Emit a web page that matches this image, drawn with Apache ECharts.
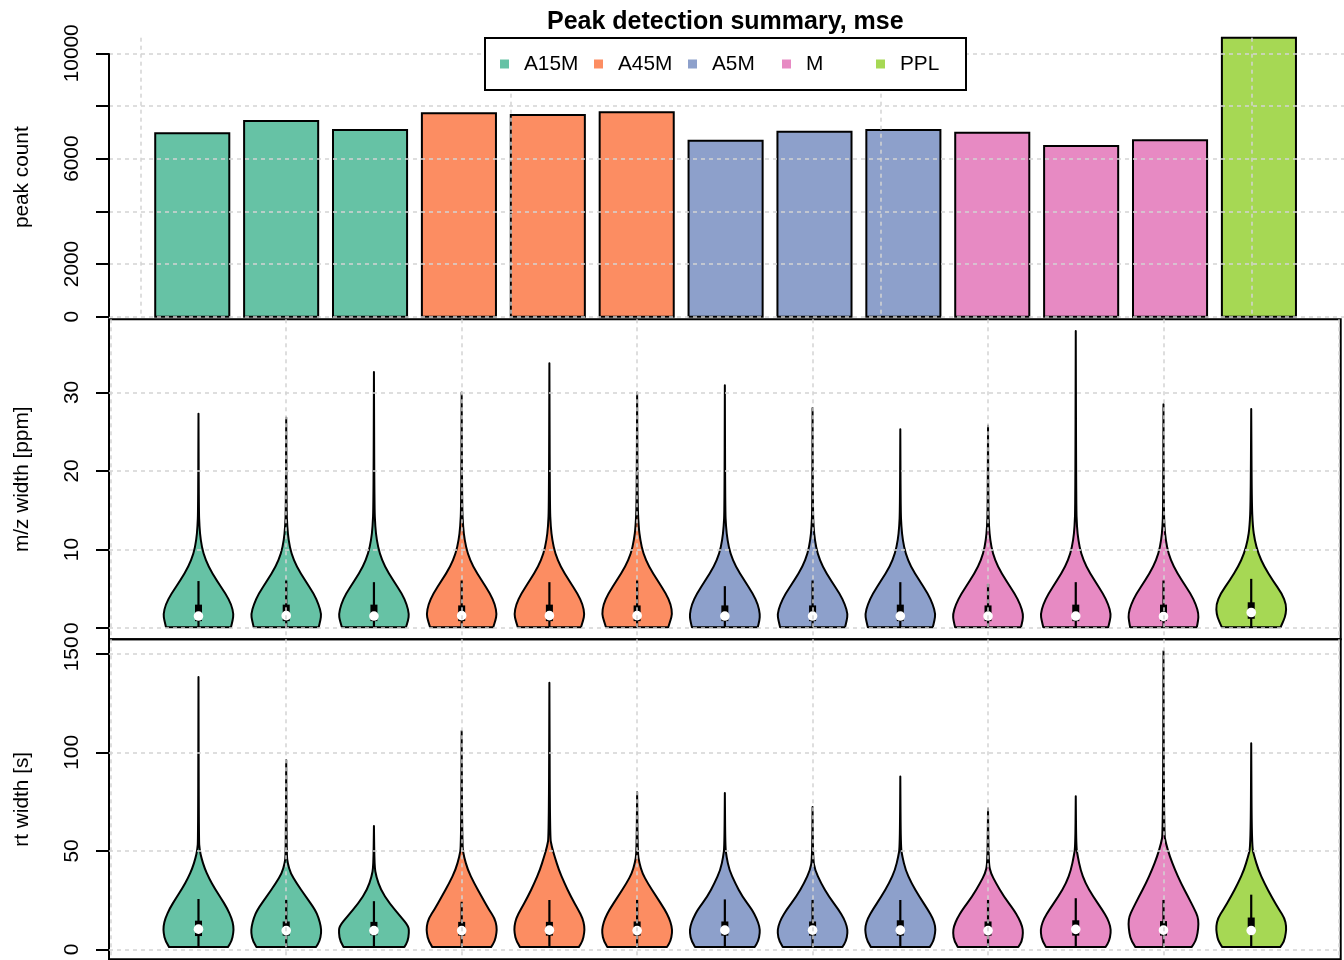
<!DOCTYPE html>
<html><head><meta charset="utf-8">
<script src="https://cdn.jsdelivr.net/npm/echarts@6/dist/echarts.min.js"></script>
<style>html,body{margin:0;padding:0;background:#fff}#c{width:1344px;height:960px}</style>
</head><body><div id="c"></div>
<script>
// ---------- data ----------
const titleText = 'Peak detection summary, mse';
const groupNames = ['A15M', 'A45M', 'A5M', 'M', 'PPL'];
const groupColors = ['#66C2A5', '#FC8D62', '#8DA0CB', '#E78AC3', '#A6D854'];
const sampleGroup = [0, 0, 0, 1, 1, 1, 2, 2, 2, 3, 3, 3, 4];

const peakCount = [6963, 7430, 7088, 7722, 7658, 7760, 6682, 7024, 7088, 6986, 6481, 6697, 10592];

const countTicks = [0, 2000, 4000, 6000, 8000, 10000];
const countLabels = [0, 2000, 6000, 10000];
const mzTicks = [0, 10, 20, 30];
const rtTicks = [0, 50, 100, 150];
const barGridX = [0, 5, 10, 15];
const violinGridX = [0, 2, 4, 6, 8, 10, 12, 14];

// m/z width [ppm] summary per sample
const mzMin = [0.13, 0.13, 0.13, 0.13, 0.13, 0.13, 0.13, 0.13, 0.13, 0.13, 0.13, 0.13, 0.13];
const mzQ1 = [0.9, 0.9, 0.9, 0.9, 0.9, 0.9, 0.9, 0.9, 0.9, 0.9, 0.9, 0.9, 1.2];
const mzMedian = [1.55, 1.6, 1.55, 1.6, 1.6, 1.6, 1.55, 1.55, 1.55, 1.55, 1.55, 1.5, 2.0];
const mzQ3 = [3.0, 3.0, 3.0, 2.9, 3.0, 2.9, 2.9, 2.9, 3.0, 2.9, 3.0, 3.0, 3.3];
const mzUpper = [6.0, 6.07, 5.86, 6.07, 5.86, 6.07, 5.35, 6.07, 5.86, 5.65, 5.86, 6.07, 6.28];
const mzMax = [27.3, 26.8, 32.6, 30.0, 33.7, 30.0, 30.9, 28.0, 25.3, 25.8, 37.8, 28.5, 27.9];
// violin outline: [value, half width]
const mzProfiles = [
  [[0.13,.37],[1.0,.39],[1.8,.40],[3.0,.375],[4.4,.31],[6.1,.205],[7.8,.115],[9.5,.055],[11.2,.025],[12.9,.011],[15.0,.004]],
  [[0.13,.37],[1.0,.39],[1.8,.40],[3.0,.37],[4.4,.315],[6.1,.214],[7.8,.12],[9.5,.058],[11.2,.027],[12.9,.012],[15.0,.004]],
  [[0.13,.365],[1.0,.39],[1.8,.40],[3.0,.375],[4.4,.32],[6.1,.218],[7.8,.125],[9.5,.065],[11.2,.032],[12.9,.015],[15.5,.005]],
  [[0.13,.36],[1.0,.385],[1.8,.40],[3.0,.38],[4.4,.325],[6.1,.227],[7.8,.13],[9.5,.068],[11.2,.034],[12.9,.016],[15.5,.005]],
  [[0.13,.36],[1.0,.385],[1.8,.40],[3.0,.38],[4.4,.322],[6.1,.222],[7.8,.128],[9.5,.066],[11.2,.033],[12.9,.015],[15.5,.005]],
  [[0.13,.355],[1.0,.38],[1.8,.40],[3.0,.385],[4.4,.33],[6.1,.231],[7.8,.135],[9.5,.07],[11.2,.036],[12.9,.017],[16.0,.005]],
  [[0.13,.375],[1.0,.395],[1.8,.40],[3.0,.378],[4.4,.32],[6.1,.221],[7.8,.125],[9.5,.062],[11.2,.03],[12.9,.013],[15.0,.004]],
  [[0.13,.37],[1.0,.39],[1.8,.40],[3.0,.37],[4.4,.31],[6.1,.207],[7.8,.115],[9.5,.056],[11.2,.026],[12.9,.011],[15.0,.004]],
  [[0.13,.37],[1.0,.39],[1.8,.40],[3.0,.372],[4.4,.315],[6.1,.216],[7.8,.12],[9.5,.06],[11.2,.028],[12.9,.012],[15.0,.004]],
  [[0.13,.375],[1.0,.395],[1.8,.40],[3.0,.368],[4.4,.305],[6.1,.203],[7.8,.112],[9.5,.054],[11.2,.025],[12.9,.011],[15.0,.004]],
  [[0.13,.37],[1.0,.39],[1.8,.40],[3.0,.372],[4.4,.312],[6.1,.212],[7.8,.12],[9.5,.06],[11.2,.029],[12.9,.013],[15.5,.005]],
  [[0.13,.38],[1.0,.395],[1.8,.40],[3.0,.37],[4.4,.31],[6.1,.207],[7.8,.116],[9.5,.056],[11.2,.026],[12.9,.011],[15.0,.004]],
  [[0.13,.335],[1.0,.37],[1.8,.395],[3.0,.40],[4.4,.35],[6.1,.243],[7.8,.15],[9.5,.08],[11.2,.04],[12.9,.018],[16.0,.006]]
];

// rt width [s] summary per sample
const rtMin = [1.2, 1.2, 1.2, 1.2, 1.2, 1.2, 1.2, 1.2, 1.2, 1.2, 1.2, 1.2, 1.2];
const rtQ1 = [6.8, 7.0, 7.2, 7.0, 7.0, 7.0, 7.0, 7.0, 7.0, 7.0, 7.0, 7.0, 8.0];
const rtMedian = [10.3, 9.6, 9.6, 9.6, 9.8, 9.6, 9.8, 9.8, 9.8, 9.6, 10.2, 9.8, 9.6];
const rtQ3 = [14.6, 14.2, 14.0, 14.0, 14.0, 14.2, 14.2, 14.2, 14.8, 14.2, 14.8, 14.4, 16.2];
const rtUpper = [25.6, 25.1, 24.5, 24.2, 25.1, 25.1, 25.4, 25.1, 25.1, 25.1, 26.0, 25.1, 27.8];
const rtMax = [138.3, 96.2, 62.7, 110.9, 135.3, 79.9, 79.4, 72.3, 87.8, 71.5, 77.7, 151.3, 104.7];
const rtProfiles = [
  [[1.2,.335],[4.1,.377],[8.3,.398],[11.7,.40],[15.9,.378],[21.0,.325],[26.0,.257],[31.1,.184],[36.2,.12],[41.3,.069],[46.3,.034],[50.5,.013],[55.6,.004]],
  [[1.2,.34],[4.1,.38],[8.3,.40],[11.7,.395],[15.9,.37],[20.1,.33],[26.9,.223],[33.7,.116],[38.7,.05],[43.8,.017],[48.0,.005]],
  [[1.2,.347],[4.1,.385],[8.3,.40],[11.7,.395],[16.7,.304],[23.5,.176],[30.3,.077],[37.0,.026],[42.1,.006]],
  [[1.2,.335],[4.1,.377],[8.3,.398],[11.7,.40],[15.9,.375],[20.1,.313],[26.9,.227],[33.7,.141],[40.4,.069],[47.2,.026],[52.3,.006]],
  [[1.2,.335],[4.1,.377],[8.3,.398],[11.7,.40],[15.9,.378],[20.1,.33],[26.9,.244],[33.7,.171],[40.4,.107],[47.2,.06],[52.3,.026],[57.3,.006]],
  [[1.2,.34],[4.1,.38],[8.3,.40],[11.7,.395],[15.9,.365],[20.1,.317],[26.9,.218],[33.7,.12],[38.7,.06],[43.8,.026],[48.9,.006]],
  [[1.2,.34],[4.1,.38],[8.3,.40],[11.7,.395],[15.9,.36],[20.1,.311],[26.9,.198],[33.7,.117],[40.4,.05],[47.2,.018],[52.0,.005]],
  [[1.2,.34],[4.1,.38],[8.3,.40],[11.7,.392],[15.9,.355],[20.1,.297],[26.9,.185],[33.7,.095],[40.4,.027],[46.0,.005]],
  [[1.2,.335],[4.1,.377],[8.3,.398],[11.7,.40],[15.9,.37],[20.1,.315],[26.9,.216],[33.7,.126],[40.4,.059],[47.2,.023],[52.0,.005]],
  [[1.2,.345],[4.1,.385],[8.3,.40],[11.7,.39],[15.9,.35],[20.1,.293],[26.9,.18],[33.7,.09],[38.7,.032],[43.8,.006]],
  [[1.2,.34],[4.1,.38],[8.3,.40],[11.7,.395],[15.9,.36],[20.1,.302],[26.9,.198],[33.7,.108],[40.4,.054],[47.2,.023],[52.0,.005]],
  [[1.2,.32],[4.1,.365],[8.3,.39],[13.4,.40],[16.7,.39],[20.1,.356],[26.9,.279],[33.7,.198],[40.4,.131],[47.2,.072],[53.9,.027],[59.0,.006]],
  [[1.2,.33],[4.1,.375],[8.3,.395],[11.7,.40],[15.9,.38],[20.1,.32],[26.9,.23],[33.7,.149],[40.4,.081],[47.2,.036],[52.3,.006]]
];

// ---------- layout constants ----------
const FONT = 'Liberation Sans';
const FS = 20.8;
const topXMin = -0.424, topXMax = 16.424;      // barplot x range
const vioXMin = -0.02, vioXMax = 14.02;        // violin x range
const mzYMin = -1.41, mzYMax = 39.3;
const rtYMin = -5.0, rtYMax = 157.4;
const barWidth = 1, barSpace = 0.2;
const boxHalf = 0.04;

const gridLine = { show: true, lineStyle: { color: '#d3d3d3', type: [4, 4], width: 1.5 } };
const labelStyle = { color: '#000', fontSize: FS, fontFamily: FONT };

function yAxisDef(gi, min, max, ticks, labels, name) {
  return {
    gridIndex: gi, type: 'value', min: min, max: max, z: 3,
    axisLine: { show: false, onZero: false },
    axisTick: { show: true, inside: false, length: 13, lineStyle: { color: '#000', width: 2 }, customValues: ticks },
    axisLabel: Object.assign({ customValues: labels, rotate: 90, margin: 26, hideOverlap: false,
      showMinLabel: true, showMaxLabel: true, formatter: v => String(v) }, labelStyle),
    splitLine: gridLine,
    name: name, nameLocation: 'middle', nameRotate: 90, nameGap: 76,
    nameTextStyle: labelStyle
  };
}
function xAxisDef(gi, min, max, ticks) {
  return {
    gridIndex: gi, type: 'value', min: min, max: max, z: 3,
    axisLine: { show: false, onZero: false },
    axisTick: { show: false, customValues: ticks },
    axisLabel: { show: false, customValues: ticks },
    splitLine: gridLine
  };
}

function barRender(params, api) {
  const x = api.value(0), v = api.value(1);
  const p0 = api.coord([x - barWidth / 2, v]);
  const p1 = api.coord([x + barWidth / 2, 0]);
  return {
    type: 'rect',
    shape: { x: p0[0], y: p0[1], width: p1[0] - p0[0], height: p1[1] - p0[1] },
    style: { fill: api.visual('color'), stroke: '#000', lineWidth: 2 }
  };
}

function violinRender(prof, minA, q1A, medA, q3A, upA, maxA) {
  return function (params, api) {
    const x = api.value(0), k = api.value(1);
    const p = prof[k];
    const left = p.map(d => api.coord([x - d[1], d[0]]));
    const right = p.slice().reverse().map(d => api.coord([x + d[1], d[0]]));
    const apex = api.coord([x, maxA[k]]);
    const pts = left.concat([apex, apex], right);
    let d = 'M' + pts[0][0] + ' ' + pts[0][1];
    for (let i = 1; i < pts.length - 1; i++) {
      const mx = (pts[i][0] + pts[i + 1][0]) / 2, my = (pts[i][1] + pts[i + 1][1]) / 2;
      d += ' Q' + pts[i][0] + ' ' + pts[i][1] + ' ' + mx + ' ' + my;
    }
    d += ' L' + pts[pts.length - 1][0] + ' ' + pts[pts.length - 1][1] + ' Z';
    const w0 = api.coord([x, minA[k]]), w1 = api.coord([x, upA[k]]);
    const b0 = api.coord([x - boxHalf, q3A[k]]), b1 = api.coord([x + boxHalf, q1A[k]]);
    const m = api.coord([x, medA[k]]);
    return {
      type: 'group',
      children: [
        { type: 'path', shape: { pathData: d }, style: { fill: api.visual('color'), stroke: '#000', lineWidth: 2, lineJoin: 'round' } },
        { type: 'line', shape: { x1: w0[0], y1: w0[1], x2: w1[0], y2: w1[1] }, style: { stroke: '#000', lineWidth: 2.2 } },
        { type: 'rect', shape: { x: b0[0], y: b0[1], width: b1[0] - b0[0], height: b1[1] - b0[1] }, style: { fill: '#000' } },
        { type: 'circle', shape: { cx: m[0], cy: m[1], r: 4.8 }, style: { fill: '#fff' } }
      ]
    };
  };
}

const series = [];
groupNames.forEach((g, gi) => {
  const idx = sampleGroup.map((s, i) => s === gi ? i : -1).filter(i => i >= 0);
  series.push({
    type: 'custom', name: g, xAxisIndex: 0, yAxisIndex: 0, color: groupColors[gi],
    itemStyle: { color: groupColors[gi] }, renderItem: barRender, clip: false,
    data: idx.map(i => [barSpace + barWidth / 2 + i * (barWidth + barSpace), peakCount[i]])
  });
  series.push({
    type: 'custom', name: g, xAxisIndex: 1, yAxisIndex: 1, color: groupColors[gi],
    itemStyle: { color: groupColors[gi] },
    renderItem: violinRender(mzProfiles, mzMin, mzQ1, mzMedian, mzQ3, mzUpper, mzMax),
    data: idx.map(i => [i + 1, i])
  });
  series.push({
    type: 'custom', name: g, xAxisIndex: 2, yAxisIndex: 2, color: groupColors[gi],
    itemStyle: { color: groupColors[gi] },
    renderItem: violinRender(rtProfiles, rtMin, rtQ1, rtMedian, rtQ3, rtUpper, rtMax),
    data: idx.map(i => [i + 1, i])
  });
});
// left axis line of the bar panel, from first to last tick
series.push({
  type: 'line', xAxisIndex: 0, yAxisIndex: 0, symbol: 'none', silent: true, clip: false, z: 4,
  lineStyle: { color: '#000', width: 2 },
  data: [[topXMin, countTicks[0]], [topXMin, countTicks[countTicks.length - 1]]]
});

const option = {
  animation: false,
  backgroundColor: '#fff',
  title: {
    text: titleText, left: 547, top: 10, padding: 0,
    textStyle: { fontSize: 25, fontWeight: 'bold', fontFamily: FONT, color: '#000' }
  },
  legend: {
    data: groupNames, left: 485, top: 38, orient: 'horizontal', icon: 'rect',
    itemWidth: 9, itemHeight: 9, itemGap: 5, padding: [13, 1, 13, 15],
    borderColor: '#000', borderWidth: 2, backgroundColor: '#fff', selectedMode: false, z: 10,
    textStyle: { fontSize: FS, fontFamily: FONT, color: '#000', width: 65, padding: [2, 0, 0, 10], lineHeight: 24 }
  },
  grid: [
    { left: 109, top: 37.7, width: 1248, height: 279, outerBoundsMode: 'none', containLabel: false },
    { left: 109, top: 319.3, width: 1231.7, height: 320, show: true, borderColor: '#000', borderWidth: 2, backgroundColor: 'transparent', outerBoundsMode: 'none', containLabel: false },
    { left: 109, top: 639.3, width: 1231.7, height: 320, show: true, borderColor: '#000', borderWidth: 2, backgroundColor: 'transparent', outerBoundsMode: 'none', containLabel: false }
  ],
  xAxis: [
    xAxisDef(0, topXMin, topXMax, barGridX),
    xAxisDef(1, vioXMin, vioXMax, violinGridX),
    xAxisDef(2, vioXMin, vioXMax, violinGridX)
  ],
  yAxis: [
    yAxisDef(0, 0, Math.max(...peakCount), countTicks, countLabels, 'peak count'),
    yAxisDef(1, mzYMin, mzYMax, mzTicks, mzTicks, 'm/z width [ppm]'),
    yAxisDef(2, rtYMin, rtYMax, rtTicks, rtTicks, 'rt width [s]')
  ],
  series: series
};

const chart = echarts.init(document.getElementById('c'), null, { renderer: 'canvas' });
chart.setOption(option);
</script>
</body></html>
